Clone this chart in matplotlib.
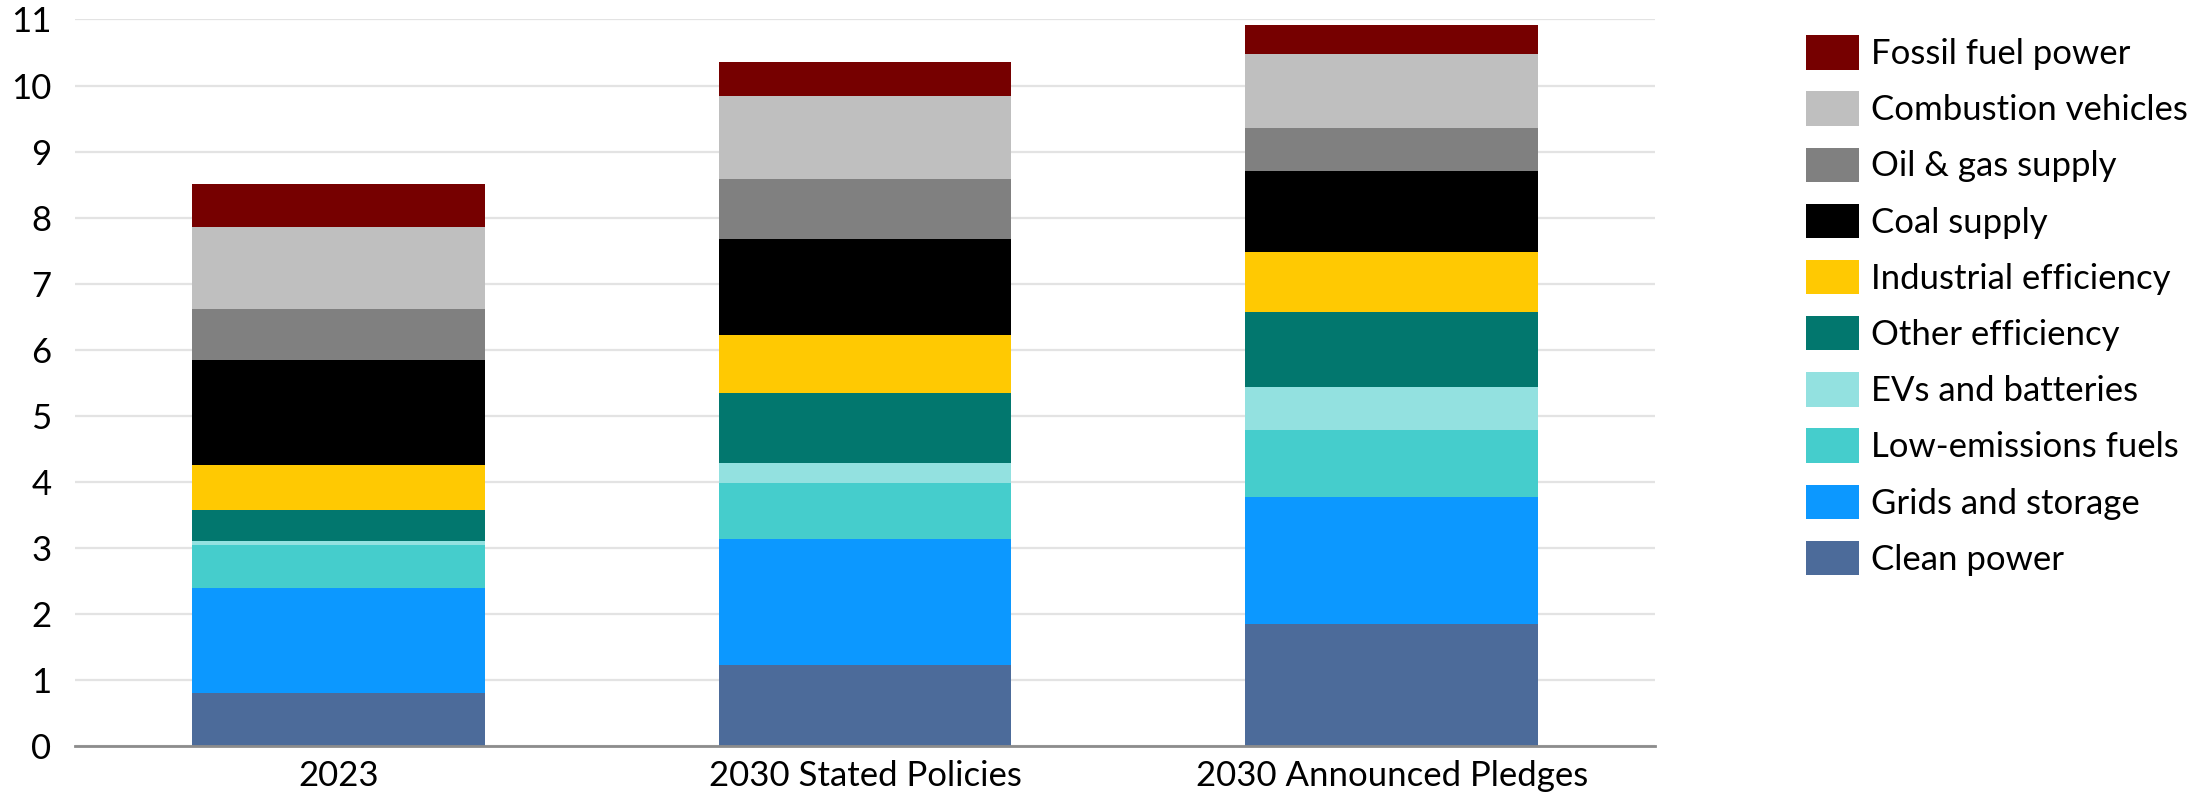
import matplotlib
matplotlib.use("Agg")
import matplotlib.pyplot as plt
from matplotlib.patches import Patch

plt.rcParams['font.family'] = ['Lato', 'DejaVu Sans']

scenarios = ["2023", "2030 Stated Policies", "2030 Announced Pledges"]

# Stack order from bottom to top
categories = [
    "Clean power", "Grids and storage", "Low-emissions fuels", "EVs and batteries",
    "Other efficiency", "Industrial efficiency", "Coal supply", "Oil & gas supply",
    "Combustion vehicles", "Fossil fuel power",
]
colors = [
    "#4c6b9a", "#0c98ff", "#45cdcc", "#93e1e0",
    "#02776e", "#ffc902", "#000000", "#808080",
    "#bfbfbf", "#760000",
]

clean_power = [0.80, 1.23, 1.85]
grids_storage = [1.60, 1.90, 1.92]
low_emissions_fuels = [0.64, 0.85, 1.01]
evs_batteries = [0.06, 0.31, 0.65]
other_efficiency = [0.47, 1.06, 1.14]
industrial_efficiency = [0.69, 0.88, 0.91]
coal_supply = [1.59, 1.45, 1.22]
oil_gas_supply = [0.76, 0.90, 0.66]
combustion_vehicles = [1.25, 1.26, 1.12]
fossil_fuel_power = [0.65, 0.51, 0.44]

series = [
    clean_power, grids_storage, low_emissions_fuels, evs_batteries,
    other_efficiency, industrial_efficiency, coal_supply, oil_gas_supply,
    combustion_vehicles, fossil_fuel_power,
]

fig = plt.figure(figsize=(22.1, 7.99), dpi=100)
ax = fig.add_axes([0.0339, 0.0663, 0.715, 0.9093])

x = list(range(len(scenarios)))
bottom = [0.0] * len(scenarios)
for vals, col in zip(series, colors):
    ax.bar(x, vals, width=0.556, bottom=bottom, color=col, linewidth=0, zorder=3)
    bottom = [b + v for b, v in zip(bottom, vals)]

ax.set_xlim(-0.5, 2.5)
ax.set_ylim(0, 11)
ax.set_yticks(range(0, 12))
ax.set_xticks(x)
ax.set_xticklabels(scenarios)

ax.grid(axis='y', color='#e3e3e3', linewidth=1.6, zorder=0)
ax.set_axisbelow(True)
for side in ['top', 'right', 'left']:
    ax.spines[side].set_visible(False)
ax.spines['bottom'].set_color('#8c8c8c')
ax.spines['bottom'].set_linewidth(2)
ax.spines['bottom'].set_zorder(4)

ax.tick_params(axis='both', length=0, labelsize=25, colors='#000000')
ax.tick_params(axis='y', pad=17)
ax.tick_params(axis='x', pad=10)

handles = [Patch(facecolor=c, edgecolor='none', label=l) for l, c in zip(categories, colors)]
handles = handles[::-1]
fig.legend(handles=handles, loc='upper left', bbox_to_anchor=(0.8172, 0.956),
           frameon=False, fontsize=25, handlelength=1.53, handleheight=1.15,
           handletextpad=0.35, labelspacing=0.61, borderaxespad=0, borderpad=0)

fig.savefig("out.png", dpi=100)
